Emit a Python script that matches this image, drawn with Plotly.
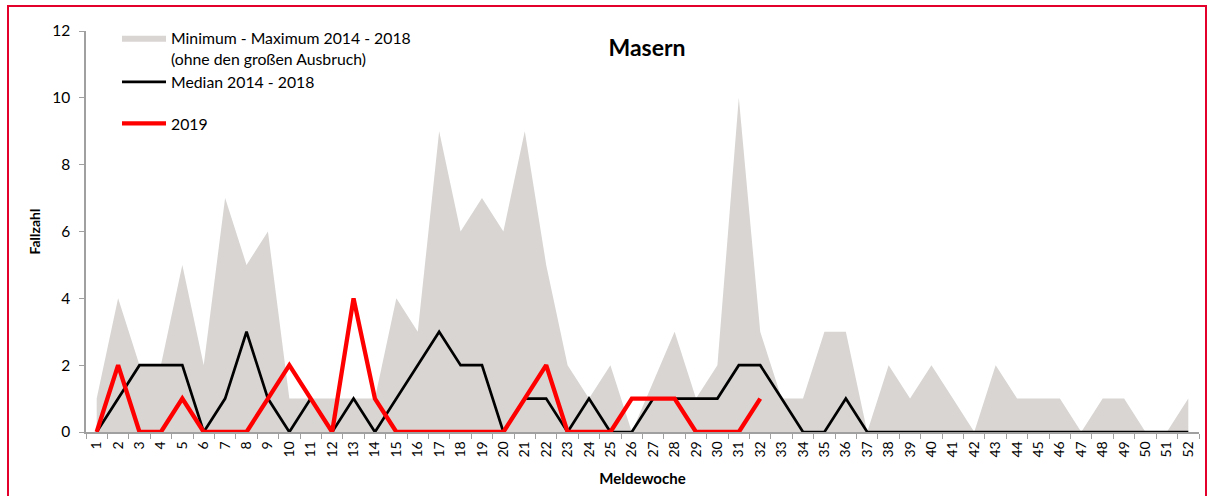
import plotly.graph_objects as go

weeks = [str(w) for w in range(1, 53)]
max_2014_2018 = [1, 4, 2, 2, 5, 2, 7, 5, 6, 1,
                 1, 1, 1, 1, 4, 3, 9, 6, 7, 6,
                 9, 5, 2, 1, 2, 0, 1.5, 3, 1, 2,
                 10, 3, 1, 1, 3, 3, 0, 2, 1, 2,
                 1, 0, 2, 1, 1, 1, 0, 1, 1, 0,
                 0, 1]
median_2014_2018 = [0, 1, 2, 2, 2, 0, 1, 3, 1, 0,
                    1, 0, 1, 0, 1, 2, 3, 2, 2, 0,
                    1, 1, 0, 1, 0, 0, 1, 1, 1, 1,
                    2, 2, 1, 0, 0, 1, 0, 0, 0, 0,
                    0, 0, 0, 0, 0, 0, 0, 0, 0, 0,
                    0, 0]
cases_2019 = [0, 2, 0, 0, 1, 0, 0, 0, 1, 2,
              1, 0, 4, 1, 0, 0, 0, 0, 0, 0,
              1, 2, 0, 0, 0, 1, 1, 1, 0, 0,
              0, 1]
y_ticks = [0, 2, 4, 6, 8, 10, 12]

FONT = "Lato"
W, H = 1210, 496
L, R, T, B = 86, 11, 31, 62
pw, ph = W - L - R, H - T - B


def px_x(p):
    return (p - L) / pw


def px_y(p):
    return (H - B - p) / ph


fig = go.Figure()
fig.add_trace(go.Scatter(
    x=weeks, y=max_2014_2018, mode="lines", fill="tozeroy",
    line=dict(width=0, color="#d8d5d3"), fillcolor="#d8d5d3",
    name="Minimum - Maximum 2014 - 2018<br>(ohne den großen Ausbruch)",
    legend="legend",
))
fig.add_trace(go.Scatter(
    x=weeks, y=median_2014_2018, mode="lines",
    line=dict(width=2.7, color="#000000"),
    name="Median 2014 - 2018", legend="legend",
))
fig.add_trace(go.Scatter(
    x=weeks[:len(cases_2019)], y=cases_2019, mode="lines",
    line=dict(width=4.3, color="#ff0000"),
    name="2019", legend="legend2",
))

axis_grey = "#a0a0a0"
fig.update_layout(
    width=W, height=H,
    margin=dict(l=L, r=R, t=T, b=B),
    paper_bgcolor="white", plot_bgcolor="white",
    font=dict(family=FONT, size=15, color="#000000"),
    title=dict(text="<b>Masern</b>", x=647 / W, xanchor="center",
               y=1 - 48 / H, yanchor="middle",
               font=dict(family=FONT, size=23, color="#000000")),
    showlegend=True,
    legend=dict(x=px_x(117), y=px_y(21), xanchor="left", yanchor="top",
                bgcolor="rgba(0,0,0,0)", font=dict(family=FONT, size=15.8),
                valign="top", tracegroupgap=0, itemwidth=44),
    legend2=dict(x=px_x(117), y=px_y(107), xanchor="left", yanchor="top",
                 bgcolor="rgba(0,0,0,0)", font=dict(family=FONT, size=15.8),
                 itemwidth=44),
    xaxis=dict(
        type="category", categoryorder="array", categoryarray=weeks,
        range=[-0.5, 51.5], tickson="boundaries",
        ticks="outside", ticklen=5, tickcolor=axis_grey,
        showline=True, linecolor=axis_grey, linewidth=1.5,
        showgrid=False, zeroline=False, tickangle=-90,
        ticklabelstandoff=2,
        tickfont=dict(family=FONT, size=14),
        title=dict(text="<b>Meldewoche</b>", standoff=17,
                   font=dict(family=FONT, size=15)),
    ),
    yaxis=dict(
        range=[0, 12], tickvals=y_ticks, ticks="outside", ticklen=5,
        tickcolor=axis_grey, showline=True, linecolor=axis_grey,
        linewidth=1.5, showgrid=False, zeroline=False,
        ticklabelstandoff=6,
        tickfont=dict(family=FONT, size=15.5),
        title=dict(text="<b>Fallzahl</b>", standoff=8,
                   font=dict(family=FONT, size=14)),
    ),
    shapes=[dict(type="rect", xref="paper", yref="paper",
                 x0=px_x(8), x1=px_x(1206), y0=px_y(6), y1=px_y(505),
                 line=dict(color="#e3002b", width=2), layer="above")],
)

fig.write_html("out.html", config={"displayModeBar": False},
               post_script="document.body.style.margin='0';")
